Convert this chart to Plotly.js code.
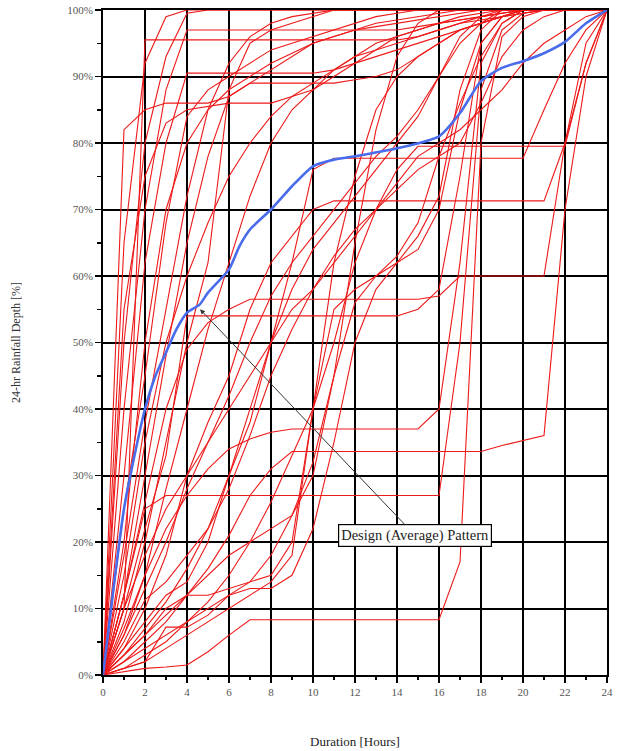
<!DOCTYPE html>
<html>
<head>
<meta charset="utf-8">
<script src="https://cdn.plot.ly/plotly-3.0.1.min.js"></script>
<style>html,body{margin:0;padding:0;background:#fff;}#chart{width:617px;height:751px;}</style>
</head>
<body>
<div id="chart"></div>
<script>
const hours = [0,1,2,3,4,5,6,7,8,9,10,11,12,13,14,15,16,17,18,19,20,21,22,23,24];

// Design (average) pattern, cumulative % of 24-hr depth
const designX = [0,0.5,1,1.5,2,2.5,3,3.5,4,4.6,5,6,6.5,7,8,9,10,11,12,14,16,17,18,19,20,21,22,23,24];
const designY = [0,13,25,33,40,45,48.5,52,54.5,55.7,57.5,61,64.5,67,70,73.5,76.5,77.5,78,79.2,81,84.5,89.3,91.3,92.3,93.5,95.2,98,100];

// Individual storm patterns (cumulative %, hourly)
const r01 = [0,82,85,86,86,86,87,89,91,93,95,96,97,98,98.5,99,99.5,100,100,100,100,100,100,100,100];
const r02 = [0,10,95.5,95.5,95.5,95.5,95.5,95.5,95.5,95.5,95.5,95.5,95.5,95.5,95.5,96,97,98,99,99.5,100,100,100,100,100];
const r03 = [0,65,92,99,100,100,100,100,100,100,100,100,100,100,100,100,100,100,100,100,100,100,100,100,100];
const r04 = [0,50,80,93,99.5,100,100,100,100,100,100,100,100,100,100,100,100,100,100,100,100,100,100,100,100];
const r05 = [0,40,70,88,97,97,97,97,97,97,97,97,97,97,97,97.5,98,98.5,99,99.5,100,100,100,100,100];
const r06 = [0,30,62,80,90.5,90.5,90.5,90.5,90.5,90.5,90.5,91,92,93,94,95,96,97,98,99,99.5,100,100,100,100];
const r07 = [0,25,45,68,84,88,90,92,94,95,96,97,98,99,99.5,100,100,100,100,100,100,100,100,100,100];
const r08 = [0,55,75,83,85,85.5,86,86,86,87,88,90,92,94,96,97,98,98.5,99,99.5,100,100,100,100,100];
const r09 = [0,18,38,55,72,85,92,96,98,99,99.5,100,100,100,100,100,100,100,100,100,100,100,100,100,100];
const r10 = [0,12,30,48,65,78,87,89,89,89,89,89,89.5,90,91,93,95,97,98,99,100,100,100,100,100];
const r11 = [0,8,20,35,50,62,88,95,97,98,99,100,100,100,100,100,100,100,100,100,100,100,100,100,100];
const r12 = [0,6,15,28,40,52,62,72,80,85,88,91,93,95,96,97,98,99,99.5,100,100,100,100,100,100];
const r13 = [0,10,22,33,54,54,54,54,54,54,54,54,54,54,54,55,58,75,95,99,100,100,100,100,100];
const r14 = [0,12,26,40,49,53,55,56.5,56.5,56.5,56.5,56.5,56.5,56.5,56.5,56.5,57,60,60,60,60,60,80,95,100];
const r15 = [0,4,10,18,30,38,45,55,62,66,70,71.3,71.3,71.3,71.3,71.3,71.3,71.3,71.3,71.3,71.3,71.3,80,92,100];
const r16 = [0,3,7,11,16,22,30,38,50,62,76,77.7,77.7,77.7,77.7,77.7,77.7,77.7,77.7,77.7,77.7,85,92,97,100];
const r17 = [0,3,6,9,12,16,21,27,31,33.6,33.6,33.6,33.6,33.6,33.6,33.6,33.6,33.6,33.6,34.5,35.3,36,70,90,100];
const r18 = [0,0.5,1,1.2,1.5,3.5,6,8.3,8.3,8.3,8.3,8.3,8.3,8.3,8.3,8.3,8.3,17,80,96,99,100,100,100,100];
const r19 = [0,12,25,27,27,27,27,27,27,27,27,27,27,27,27,27,27,50,88,97,99.5,100,100,100,100];
const r20 = [0,7,15,22,27,31,34,35.5,36.5,37,37,37,37,37,37,37,40,62,92,98,100,100,100,100,100];
const r21 = [0,1,2,4,6,8,10,12,14,18,40,55,58,60,62,64,70,85,95,99,100,100,100,100,100];
const r22 = [0,1,3,5,8,11,15,20,26,33,40,50,62,70,76,79.5,79.5,79.5,79.5,79.5,79.5,79.5,79.5,92,100];
const r23 = [0,4,8,12,14,20,30,40,50,58,64,68,72,76,80,84,90,95,98,100,100,100,100,100,100];
const r24 = [0,2,5,8,12,15,18,20,22,24,30,45,65,82,93,98,100,100,100,100,100,100,100,100,100];
const r25 = [0,6,13,20,28,35,42,50,57,62,66,70,74,78,81,85,90,96,99,100,100,100,100,100,100];
const r26 = [0,3,6,10,12,12,13,14,15,20,40,62,75,85,90,93,95,97,98,99,100,100,100,100,100];
const r27 = [0,1,2,7.2,7.2,9,12,13,13,15,22,35,50,58,62,66,72,88,97,100,100,100,100,100,100];
const r28 = [0,2,4,6,8,10,12,14,18,24,32,45,56,60,63,68,78,86,93,98,100,100,100,100,100];
const r29 = [0,5,11.3,14,18,22,28,36,45,52,58,63,67,70,73,76,78,80,86,93,97,99,100,100,100];
const r30 = [0,10,18,25,30,35,40,45,50,55,58,62,66,70,74,78,80,82,85,88,92,95,97,99,100];
const r31 = [0,15,35,50,60,68,75,80,84,87,89,91,93,94,95,96,97,98,98.5,99,99.5,100,100,100,100];
const r32 = [0,20,50,70,80,85,88,90,92,93.5,95,96,97,97.5,98,98.5,99,99.5,100,100,100,100,100,100,100];

const storms = [r01,r02,r03,r04,r05,r06,r07,r08,r09,r10,r11,r12,r13,r14,r15,r16,
                r17,r18,r19,r20,r21,r22,r23,r24,r25,r26,r27,r28,r29,r30,r31,r32];

const yTickVals = [0,10,20,30,40,50,60,70,80,90,100];
const yTickText = ['0%','10%','20%','30%','40%','50%','60%','70%','80%','90%','100%'];
const xTickVals = [0,2,4,6,8,10,12,14,16,18,20,22,24];

const traces = storms.map(s => ({
  x: hours, y: s, type: 'scatter', mode: 'lines',
  line: {color: 'rgb(238,25,25)', width: 1.1}, hoverinfo: 'skip', showlegend: false
}));
traces.push({
  x: designX, y: designY, type: 'scatter', mode: 'lines',
  line: {color: 'rgb(72,108,235)', width: 2.6, shape: 'spline', smoothing: 0.6},
  showlegend: false
});

const serif = 'Liberation Serif, Times New Roman, serif';
const layout = {
  width: 617, height: 751,
  margin: {l: 103, r: 10, t: 10, b: 76},
  paper_bgcolor: '#fff', plot_bgcolor: '#fff',
  showlegend: false,
  font: {family: serif, size: 11, color: '#444'},
  xaxis: {
    range: [0, 24], tickvals: xTickVals, ticks: 'outside', ticklen: 6, tickwidth: 1.5, tickcolor: '#000',
    showgrid: true, gridcolor: '#000', gridwidth: 2,
    showline: true, linecolor: '#000', linewidth: 2, mirror: true, zeroline: false,
    minor: {dtick: 1, ticks: 'outside', ticklen: 3, tickcolor: '#000', showgrid: false},
    tickfont: {family: serif, size: 11, color: '#555'},
    title: {text: 'Duration [Hours]', font: {family: serif, size: 13, color: '#222'}, standoff: 40}
  },
  yaxis: {
    range: [0, 100], tickvals: yTickVals, ticktext: yTickText, ticks: 'outside', ticklen: 6, tickwidth: 1.5, tickcolor: '#000',
    showgrid: true, gridcolor: '#000', gridwidth: 2,
    showline: true, linecolor: '#000', linewidth: 2, mirror: true, zeroline: false,
    minor: {dtick: 5, ticks: 'outside', ticklen: 4, tickcolor: '#000', showgrid: false},
    tickfont: {family: serif, size: 11, color: '#555'},
    title: {text: '24-hr Rainfall Depth [%]', font: {family: serif, size: 12, color: '#333'}, standoff: 44}
  },
  annotations: [{
    x: 4.62, y: 55, xref: 'x', yref: 'y',
    ax: 14.86, ay: 21, axref: 'x', ayref: 'y',
    text: 'Design (Average) Pattern', showarrow: true,
    arrowhead: 2, arrowsize: 1, arrowwidth: 1, arrowcolor: '#333',
    bgcolor: '#fff', bordercolor: '#000', borderwidth: 1.2, borderpad: 2,
    font: {family: serif, size: 14.5, color: '#222'}
  }]
};

Plotly.newPlot('chart', traces, layout, {displayModeBar: false, staticPlot: true});
</script>
</body>
</html>
